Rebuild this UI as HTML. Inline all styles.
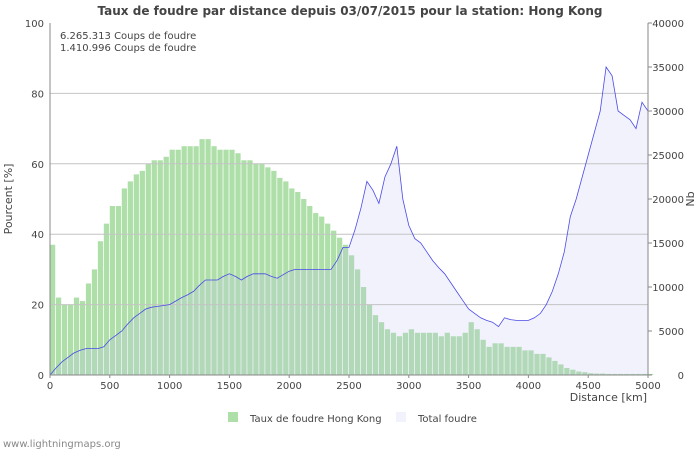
<!DOCTYPE html>
<html><head><meta charset="utf-8">
<style>
body{margin:0;background:#fff;font-family:"Liberation Sans","DejaVu Sans",sans-serif;}
svg text{font-family:"DejaVu Sans","Liberation Sans",sans-serif;}
</style></head>
<body>
<svg id="chart" width="700" height="450">
<text x="350" y="15" text-anchor="middle" font-size="12" font-weight="bold" fill="#444">Taux de foudre par distance depuis 03/07/2015 pour la station: Hong Kong</text>
<g id="bars"></g>
<g id="area"></g>
<g id="grid"></g>
<g id="line"></g>
<g id="axes"></g>
<text x="60" y="39" font-size="10" fill="#444">6.265.313  Coups de foudre</text>
<text x="60" y="51" font-size="10" fill="#444">1.410.996  Coups de foudre</text>
<text transform="translate(12,199) rotate(-90)" text-anchor="middle" font-size="11" fill="#444">Pourcent   [%]</text>
<text transform="translate(694,199) rotate(-90)" text-anchor="middle" font-size="11" fill="#444">Nb</text>
<text x="647" y="401" text-anchor="end" font-size="11" fill="#444">Distance   [km]</text>
<rect x="228" y="412" width="10" height="10" fill="#aedfa8"/>
<text x="250" y="422" font-size="10" fill="#444">Taux de foudre Hong Kong</text>
<rect x="396" y="412" width="10" height="10" fill="#f2f2fd"/>
<text x="418" y="422" font-size="10" fill="#444">Total foudre</text>
<text x="3" y="447" font-size="10" fill="#888">www.lightningmaps.org</text>
</svg>
<script>
const distances=[];for(let d=0;d<=5000;d+=50)distances.push(d);
const rateValues=[37,22,20,20,22,21,26,30,38,43,48,48,53,55,57,58,60,61,61,62,64,64,65,65,65,67,67,65,64,64,64,63,61,61,60,60,59,58,56,55,53,52,50,48,46,45,43,41,39,37,34,30,25,20,17,15,13,12,11,12,13,12,12,12,12,11,12,11,11,12,15,13,10,8,9,9,8,8,8,7,7,6,6,5,4,3,2,1.5,1,0.8,0.5,0.4,0.4,0.3,0.3,0.3,0.3,0.3,0.3,0.3,0.3];
const totalValues=[0,800,1500,2000,2500,2800,3000,3000,3000,3200,4000,4500,5000,5800,6500,7000,7500,7700,7800,7900,8000,8400,8800,9100,9500,10200,10800,10800,10800,11200,11500,11200,10800,11200,11500,11500,11500,11200,11000,11400,11800,12000,12000,12000,12000,12000,12000,12000,13000,14500,14500,16500,19000,22000,21000,19500,22500,24000,26000,20000,17000,15500,15000,14000,13000,12200,11500,10500,9500,8500,7500,7000,6500,6200,6000,5500,6500,6300,6200,6200,6200,6500,7000,8000,9500,11500,14000,18000,20000,22500,25000,27500,30000,35000,34000,30000,29500,29000,28000,31000,30000];
const leftTicks=[0,20,40,60,80,100];
const rightTicks=[0,5000,10000,15000,20000,25000,30000,35000,40000];
const xTicks=[0,500,1000,1500,2000,2500,3000,3500,4000,4500,5000];
const X0=50,X1=648,Y0=375,Y1=23,NS="http://www.w3.org/2000/svg";
const xs=d=>X0+(X1-X0)*d/5000, yl=v=>Y0-(Y0-Y1)*v/100, yr=v=>Y0-(Y0-Y1)*v/40000;
function mk(t,a,p){const e=document.createElementNS(NS,t);for(const k in a)e.setAttribute(k,a[k]);document.getElementById(p).appendChild(e);return e;}
leftTicks.forEach(v=>{
 if(v>0&&v<100){const g=mk('line',{x1:X0,x2:X1,y1:yl(v),y2:yl(v),stroke:'#c4c4c4','stroke-width':1},'grid');
 
 }
 const t=mk('text',{x:44,y:yl(v)+4,'text-anchor':'end','font-size':10,fill:'#444'},'axes');t.textContent=v;
 
 
});
rightTicks.forEach(v=>{
 const t=mk('text',{x:684,y:yr(v)+4,'text-anchor':'end','font-size':10,fill:'#444'},'axes');t.textContent=v;
 
 
 mk('line',{x1:X1,x2:X1+4,y1:yr(v),y2:yr(v),stroke:'#888'},'axes');
});
xTicks.forEach(v=>{
 const t=mk('text',{x:xs(v),y:389,'text-anchor':'middle','font-size':10,fill:'#444'},'axes');t.textContent=v;
 
 
 mk('line',{x1:xs(v),x2:xs(v),y1:Y0,y2:Y0+3,stroke:'#888'},'axes');
});
const bw=(X1-X0)/distances.length;
distances.forEach((d,i)=>{
 const b=mk('rect',{x:xs(d),y:yl(rateValues[i]),width:bw-0.7,height:Y0-yl(rateValues[i]),fill:'#aedfa8'},'bars');
 
 
});
let pts=distances.map((d,i)=>xs(d).toFixed(1)+','+yr(totalValues[i]).toFixed(1));
const ar=mk('polygon',{points:xs(0)+','+Y0+' '+pts.join(' ')+' '+xs(5000)+','+Y0,fill:'rgb(190,190,245)','fill-opacity':0.2},'area');


const ln=mk('polyline',{points:pts.join(' '),fill:'none',stroke:'#4a4ae8','stroke-width':0.8},'line');


mk('line',{x1:X0,x2:X0,y1:Y1,y2:Y0,stroke:'#888'},'axes');
mk('line',{x1:X1,x2:X1,y1:Y1,y2:Y0,stroke:'#888'},'axes');
mk('line',{x1:X0,x2:X1,y1:Y0,y2:Y0,stroke:'#888'},'axes');
</script>
</body></html>
